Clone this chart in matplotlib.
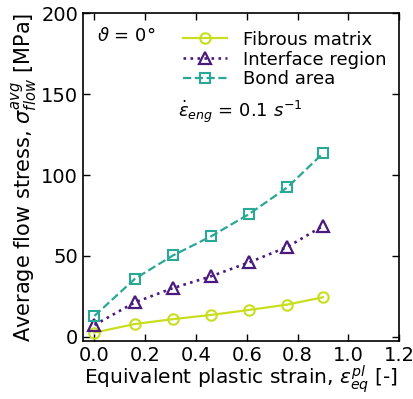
import matplotlib
matplotlib.use("Agg")
import matplotlib.pyplot as plt

strain = [0.0, 0.16, 0.31, 0.46, 0.61, 0.76, 0.90]
fibrous = [2.7, 8.0, 11.0, 13.6, 16.7, 20.0, 24.5]
interface = [7.4, 21.4, 30.2, 37.5, 46.1, 55.6, 68.5]
bond = [13.0, 36.0, 50.4, 62.2, 76.0, 92.4, 113.4]
labels = ["Fibrous matrix", "Interface region", "Bond area"]

c_fib = "#c9de1e"
c_int = "#4b1a7e"
c_bond = "#2aa896"

plt.rcParams['font.family'] = ['DejaVu Sans']
plt.rcParams['mathtext.fontset'] = 'dejavusans'

fig = plt.figure(figsize=(4.14, 3.99), dpi=100)
ax = fig.add_axes([0.2005, 0.1454, 0.7635, 0.8216])

ax.plot(strain, fibrous, '-', color=c_fib, lw=1.6, marker='o', ms=7.5,
        mfc='none', mec=c_fib, mew=1.5, label=labels[0])
ax.plot(strain, interface, ':', color=c_int, lw=1.9, marker='^', ms=8.5,
        mfc='none', mec=c_int, mew=1.6, label=labels[1])
ax.plot(strain, bond, '--', color=c_bond, lw=1.6, marker='s', ms=7,
        mfc='none', mec=c_bond, mew=1.5, label=labels[2])

ax.set_xlim(-0.045, 1.2)
ax.set_ylim(-2.5, 200)
ax.set_xticks([0.0, 0.2, 0.4, 0.6, 0.8, 1.0, 1.2])
ax.set_xticklabels(["0.0", "0.2", "0.4", "0.6", "0.8", "1.0", "1.2"])
ax.set_yticks([0, 50, 100, 150, 200])
ax.tick_params(direction='in', top=True, right=True, labelsize=14, length=5, width=1)
for s in ax.spines.values():
    s.set_linewidth(1.2)

ax.set_xlabel(r"Equivalent plastic strain, $\varepsilon^{pl}_{eq}$ [-]", fontsize=14.5, labelpad=-1)
ax.set_ylabel(r"Average flow stress, $\sigma^{avg}_{flow}$ [MPa]", fontsize=15, labelpad=1)

ax.legend(loc='upper right', bbox_to_anchor=(1.0, 0.985), frameon=False, fontsize=13,
          handlelength=2.4, handletextpad=0.9, labelspacing=0.1, borderaxespad=0.3)
ax.text(0.045, 0.93, r"$\vartheta$ = 0$\degree$", transform=ax.transAxes, fontsize=13, va='center')
ax.text(0.3, 0.7, r"$\dot{\varepsilon}_{eng}$ = 0.1 $s^{-1}$", transform=ax.transAxes, fontsize=13, va='center')

fig.savefig("out.png", dpi=100)
